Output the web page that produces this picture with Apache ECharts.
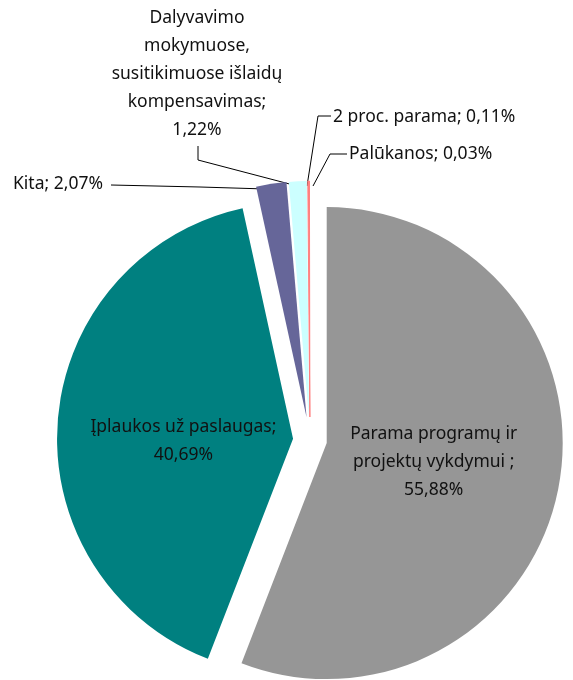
<!DOCTYPE html>
<html><head><meta charset="utf-8">
<script src="https://cdn.jsdelivr.net/npm/echarts@6/dist/echarts.min.js"></script>
<style>html,body{margin:0;padding:0;background:#fff}#c{width:573px;height:680px}</style>
</head><body><div id="c"></div>
<script>
// ---- data ----
const categories = ['Parama programų ir\nprojektų vykdymui ;', 'Įplaukos už paslaugas;', 'Kita;', 'Dalyvavimo\nmokymuose,\nsusitikimuose išlaidų\nkompensavimas;', '2 proc. parama;', 'Palūkanos;'];
const values = [55.88, 40.69, 2.07, 1.22, 0.11, 0.03];
const valueLabels = ['55,88%', '40,69%', '2,07%', '1,22%', '0,11%', '0,03%'];
const lineBreakBeforeValue = [true, true, false, true, false, false];

// ---- styles / layout ----
const colors = ['#969696', '#008080', '#666699', '#CCFFFF', '#FF8080', '#FF8080'];
const borderWidths = [0, 0, 0, 0, 1, 0];
const explode = [17, 17, 23, 23, 23, 23];
const CENTER = [310, 440];
const RADIUS = 236;
const FONT = 'Noto Sans';
const FONT_SIZE = 17.5;
const insideShift = { 0: [-12, -3], 1: [11, 12] };
const outsideLayout = {
  2: { x: 13, y: 184, align: 'left', line: [[266, 189], [200, 187], [111, 185]] },
  3: { x: 197, y: 74, align: 'center', line: [[301, 187], [198, 160], [198, 146]] },
  4: { x: 333, y: 117, align: 'left', line: [[307, 186], [318, 116], [331, 116]] },
  5: { x: 349, y: 154, align: 'left', line: [[313, 186], [330, 154], [347, 154]] }
};

function labelText(i) {
  return categories[i] + (lineBreakBeforeValue[i] ? '\n' : ' ') + valueLabels[i];
}

const total = values.reduce((a, b) => a + b, 0);
let acc = 0;
const midAngles = values.map(v => { const m = (acc + v / 2) / total * 360; acc += v; return m; });

function sliceSeries(k) {
  const rad = midAngles[k] * Math.PI / 180;
  const c = [CENTER[0] + explode[k] * Math.sin(rad), CENTER[1] - explode[k] * Math.cos(rad)];
  const inside = k < 2;
  return {
    type: 'pie',
    center: c,
    radius: RADIUS,
    startAngle: 90,
    clockwise: true,
    avoidLabelOverlap: false,
    silent: true,
    animation: false,
    emphasis: { disabled: true },
    data: values.map((v, i) => {
      const on = i === k;
      return {
        name: categories[i],
        value: v,
        itemStyle: {
          color: on ? colors[i] : 'rgba(0,0,0,0)',
          borderWidth: on ? borderWidths[i] : 0,
          borderColor: colors[i]
        },
        label: {
          show: on,
          position: inside ? 'inside' : 'outside',
          formatter: () => labelText(i),
          color: '#111111',
          fontFamily: FONT,
          fontSize: FONT_SIZE,
          lineHeight: 28,
          align: 'center'
        },
        labelLine: { show: on && !inside, lineStyle: { color: '#000', width: 1 } }
      };
    }),
    labelLayout: (params) => {
      if (params.dataIndex !== k) return;
      if (inside) return { dx: insideShift[k][0], dy: insideShift[k][1] };
      const cfg = outsideLayout[k];
      return { x: cfg.x, y: cfg.y, align: cfg.align, verticalAlign: 'middle', labelLinePoints: cfg.line };
    }
  };
}

const chart = echarts.init(document.getElementById('c'), null, { renderer: 'canvas' });
chart.setOption({
  backgroundColor: '#ffffff',
  animation: false,
  series: values.map((v, k) => sliceSeries(k))
});
</script>
</body></html>
